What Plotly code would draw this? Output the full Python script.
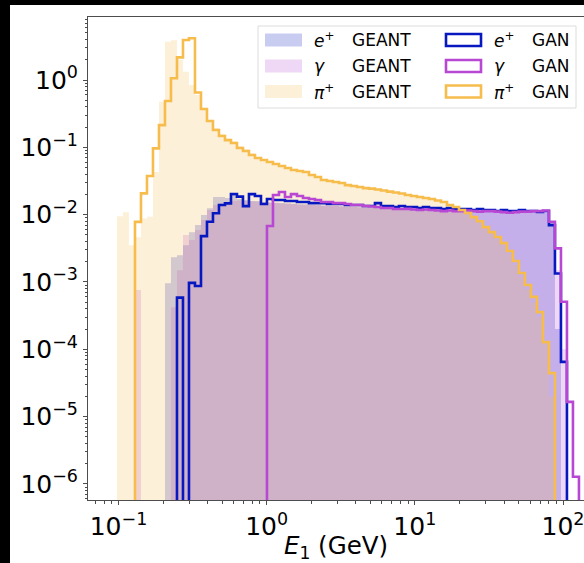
import numpy as np
import plotly.graph_objects as go

# ---------------- data ----------------
# log-spaced energy bins (GeV), 77 bins
BIN_LOG_LO, BIN_LOG_HI, N_BINS = -1.0102, 2.1076, 77
EDGES = np.logspace(BIN_LOG_LO, BIN_LOG_HI, N_BINS + 1)

PI_GEANT = [9.5e-3, 0.0109, 3.5e-3, 4.6e-3, 8.8e-3, 9.3e-3, 0.043, 0.476, 3.7, 3.9, 2.0, 1.33,
            0.84, 0.60, 0.36, 0.255, 0.194, 0.158,
            .135, .122, .105, .094, .082, .072, .067, .062, .058, .054, .051, .048, .046, .043,
            .040, .037, .034, .032, .031, .030, .028, .027, .026, .025, .024, .0235, .0228, .022,
            .0212, .0205, .0196, .0188, .018, .0173, .0166, .0157, .0148, .0137, .0126, .0114,
            .0102, .0089, .0076, .0064, .0053, .0044, .0035, .0026, .0018, .0012, .00078, .00050,
            .00030, .00012, 2e-5,
            0, 0, 0, 0]

PI_GAN = [0, 0, 0,
          7.8e-3, 0.0207, 0.0375, 0.0966, 0.214, 0.488, 1.06, 2.17, 3.93, 4.17, 0.652, 0.371,
          0.246, 0.181, 0.147,
          .128, .116, .0977, .0881, .0769, .0693, .0648, .0605, .0565, .0528, .0493, .046, .0445,
          .043, .0388, .0362, .0327, .0316, .0305, .0295, .0275, .0266, .0257, .0248, .0244,
          .0236, .0228, .022, .0213, .0206, .0196, .0189, .0183, .0177, .0171, .0162, .0154,
          .0139, .013, .0117, .0106, .0092, .008, .00654, .00551, .00465, .00378, .00288, .00205,
          .00136, .0009, .0006, .000357, .000128, 4.43e-5,
          0, 0, 0, 0]

E_GEANT = [0] * 8 + [
    9.6e-4, 2.34e-3, 2.5e-3, 3.5e-3, 5.5e-3, 7.0e-3, 9.9e-3, .0125, .0183, .0183, .0177, .0189,
    .0171, .0165, .0159, .0159, .0154,
    .0152, .0150, .0149, .0147, .0145, .0143, .0142, .0140, .0139, .0137, .0136, .0134, .0133,
    .0132, .0130, .0129, .0128, .0127, .0126, .0125, .0124, .0123, .0122, .0121, .0120, .0119,
    .0118, .0118, .0117, .0116, .0116, .0115, .0115, .0114, .0114, .0113, .0113, .0112, .0112,
    .0111, .0111, .0110, .0110, .0110, .0109, .0109, .0108,
    7.5e-3, 2.0e-4] + [0] * 3

G_GEANT = [0, 0, 0, 7.6e-4, 0, 0, 0, 0, 0,
           4.2e-4, 1.5e-3, 5.0e-3, 4.2e-3, 5.9e-3, 8.3e-3, .0117, .0139, .0147, .0155, .0160,
           .0162, .0160, .0158, .0156, .0153,
           .0151, .0149, .0147, .0146, .0144, .0142, .0141, .0139, .0138, .0136, .0135, .0134,
           .0132, .0131, .0130, .0129, .0128, .0127, .0126, .0125, .0124, .0123, .0122, .0121,
           .0120, .0119, .0119, .0118, .0117, .0117, .0116, .0116, .0115, .0115, .0114, .0114,
           .0113, .0113, .0112, .0112, .0111, .0111, .0111, .0110, .0110, .0110, .0109,
           8.0e-3, 1.5e-3, 1.0e-4, 0, 0]

E_GAN = [0] * 10 + [
    5.86e-4, 0, 9.7e-4, 8.7e-4, 4.8e-3, 7.85e-3, 0.0105, 0.0139, 0.0147, 0.0202, 0.0185, 0.0134,
    0.0202, 0.0189, 0.0144,
    .01706, .01648, .01648, .01592, .01592, .01538, .01538, .01486, .01486, .01486, .01437,
    .01437, .01437, .01389, .01389, .01389, .01342, .01342, .01486, .01342, .01342, .01297,
    .01342, .01297, .01297, .01253, .01297, .01253, .01253, .01211, .01253, .01211, .01211,
    .01211, .0117, .01211, .0117, .0117, .01131, .0117, .01131, .01131, .0117, .01131, .01131,
    .01093, .01131,
    7.0e-3, 1.34e-3, 6.5e-5] + [0] * 2

G_GAN = [0] * 25 + [
    6.8e-3, .01955, .02167, .01827, .0202, .0189, .01765, .01706, .01648, .01538, .01538, .01486,
    .01486, .01437, .01389, .01389, .01342, .0132, .01297, .01253, .01253, .01211, .01211, .0122,
    .0119, .0117, .0119, .0117, .0115, .0113, .0115, .0113, .0113, .0115, .0113, .0111, .0113,
    .0113, .0111, .0109, .0107, .0109, .0111, .0111, .0113, .0113, .0115,
    7.85e-3, 3.16e-3, 5.08e-4, 1.66e-5, 1.28e-6]

for arr in (PI_GEANT, PI_GAN, E_GEANT, G_GEANT, E_GAN, G_GAN):
    assert len(arr) == N_BINS, len(arr)

LABELS_SPECIES = ["<i>e</i><sup>+</sup>", "<i>γ</i>", "<i>π</i><sup>+</sup>"]
X_TICKS = [0.1, 1, 10, 100]
X_TICKTEXT = ["10<sup>−1</sup>", "10<sup>0</sup>", "10<sup>1</sup>", "10<sup>2</sup>"]
Y_TICKS = [1e-6, 1e-5, 1e-4, 1e-3, 1e-2, 1e-1, 1]
Y_TICKTEXT = ["10<sup>−6</sup>", "10<sup>−5</sup>", "10<sup>−4</sup>", "10<sup>−3</sup>",
              "10<sup>−2</sup>", "10<sup>−1</sup>", "10<sup>0</sup>"]

# ---------------- styling ----------------
E_COL = (8, 24, 192)
G_COL = (184, 72, 212)
P_COL = (246, 188, 76)
ALPHA = 0.22
FLOOR = 1e-9
FONT = "DejaVu Sans"

W, H = 584, 563
ML, MR, MT, MB = 88, 0, 17, 63
PW, PH = W - ML - MR, H - MT - MB


def rgba(c, a):
    return f"rgba({c[0]},{c[1]},{c[2]},{a})"


def blend(c, a):
    return "rgb(" + ",".join(str(round(255 * (1 - a) + v * a)) for v in c) + ")"


def step_xy(vals):
    x = [EDGES[0]] + list(EDGES[:-1]) + [EDGES[-1]]
    y = [FLOOR] + [v if v > 0 else FLOOR for v in vals] + [FLOOR]
    return x, y


fig = go.Figure()
for vals, col in ((E_GEANT, E_COL), (G_GEANT, G_COL), (PI_GEANT, P_COL)):
    x, y = step_xy(vals)
    fig.add_trace(go.Scatter(x=x, y=y, mode="lines", line=dict(width=0, shape="hv"),
                             fill="toself", fillcolor=rgba(col, ALPHA), showlegend=False,
                             hoverinfo="skip"))
for vals, col in ((E_GAN, E_COL), (G_GAN, G_COL), (PI_GAN, P_COL)):
    x, y = step_xy(vals)
    fig.add_trace(go.Scatter(x=x, y=y, mode="lines",
                             line=dict(width=2.6, shape="hv", color=rgba(col, 1)),
                             showlegend=False, hoverinfo="skip"))


def px2x(px):
    return (px - ML) / PW


def px2y(py):
    return (H - MB - py) / PH


shapes = []
annotations = []
# black frame visible at left and top of the reference crop
shapes.append(dict(type="rect", xref="paper", yref="paper", x0=px2x(0), x1=px2x(10),
                   y0=px2y(H), y1=px2y(0), fillcolor="black", line=dict(width=0), layer="above"))
shapes.append(dict(type="rect", xref="paper", yref="paper", x0=px2x(0), x1=px2x(W),
                   y0=px2y(5), y1=px2y(0), fillcolor="black", line=dict(width=0), layer="above"))

# legend box
shapes.append(dict(type="rect", xref="paper", yref="paper", x0=px2x(258), x1=px2x(576),
                   y0=px2y(108), y1=px2y(26), fillcolor="rgba(255,255,255,0.85)",
                   line=dict(color="#dcdcdc", width=1), layer="above"))
rows_y = [(33.5, 46.5), (59.5, 72.5), (85, 98)]
cols = [E_COL, G_COL, P_COL]
for i, (sp, col, (ya, yb)) in enumerate(zip(LABELS_SPECIES, cols, rows_y)):
    yc = (ya + yb) / 2
    shapes.append(dict(type="rect", xref="paper", yref="paper", x0=px2x(265), x1=px2x(302),
                       y0=px2y(yb), y1=px2y(ya), fillcolor=blend(col, ALPHA),
                       line=dict(width=0), layer="above"))
    shapes.append(dict(type="rect", xref="paper", yref="paper", x0=px2x(446), x1=px2x(481),
                       y0=px2y(yb - 0.5), y1=px2y(ya + 0.5), fillcolor="rgba(0,0,0,0)",
                       line=dict(width=2.6, color=rgba(col, 1)), layer="above"))
    for xs, txt in ((312, sp), (350, "GEANT"), (492, sp), (530, "GAN")):
        annotations.append(dict(xref="paper", yref="paper", x=px2x(xs), y=px2y(yc),
                                xanchor="left", yanchor="middle", showarrow=False, text=txt,
                                font=dict(family=FONT, size=17, color="black")))

minor_x = [m * 10.0 ** e for e in range(-2, 3) for m in range(2, 10)]
minor_y = [m * 10.0 ** e for e in range(-7, 1) for m in range(2, 10)]

axis_common = dict(showgrid=False, zeroline=False, showline=True, linecolor="#4d4d4d",
                   linewidth=1, ticks="outside", ticklen=4, tickwidth=1, tickcolor="#4d4d4d",
                   ticklabeloverflow="allow",
                   tickfont=dict(family=FONT, size=25, color="black"))

fig.update_layout(
    width=W, height=H, margin=dict(l=ML, r=MR, t=MT, b=MB, pad=0),
    paper_bgcolor="white", plot_bgcolor="white", showlegend=False,
    shapes=shapes, annotations=annotations,
    xaxis=dict(type="log", range=[-1.2058, 2.1417], tickmode="array", tickvals=X_TICKS,
               ticktext=X_TICKTEXT, mirror=True,
               minor=dict(ticks="outside", ticklen=2.5, tickcolor="#4d4d4d", tickmode="array",
                          tickvals=minor_x),
               title=dict(text="<i>E</i><sub>1</sub> (GeV)", standoff=5,
                          font=dict(family=FONT, size=24.5, color="black")),
               **axis_common),
    yaxis=dict(type="log", range=[-6.238, 0.9357], tickmode="array", tickvals=Y_TICKS,
               ticktext=Y_TICKTEXT, mirror=False,
               minor=dict(ticks="outside", ticklen=2.5, tickcolor="#4d4d4d", tickmode="array",
                          tickvals=minor_y),
               **axis_common),
)

fig.write_html("out.html")
